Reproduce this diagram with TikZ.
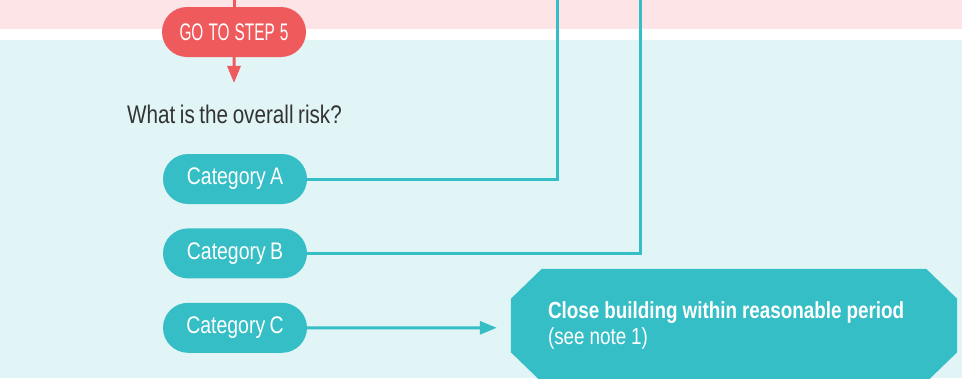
\documentclass[tikz,border=0pt]{standalone}
\usepackage{fontspec}
\setmainfont{Liberation Sans}[FakeStretch=0.81, WordSpace=0.8]
\newfontfamily\capsfont{Liberation Sans}[FakeStretch=0.64, WordSpace=1.2]
\usetikzlibrary{arrows.meta, shapes.misc, positioning, backgrounds}
\definecolor{pinkbg}{HTML}{FDE5E7}
\definecolor{cyanbg}{HTML}{E1F5F6}
\definecolor{redpill}{HTML}{EF5A5D}
\definecolor{tealpill}{HTML}{35BEC6}
\definecolor{txtgray}{HTML}{333333}
\newcommand\boxspacing{\spaceskip=4.9pt plus 2pt minus 1pt\relax}

\begin{document}
\begin{tikzpicture}[
    x=1pt, y=-1pt,
    node distance = 24pt,
    pill/.style = {rounded rectangle, fill=#1, text=white, minimum width=144pt,
                   minimum height=50pt, inner sep=0pt, font=\fontsize{24}{28}\selectfont},
    wire/.style = {draw=#1, line width=3pt},
    arr/.style  = {-{Triangle[length=17pt, width=13pt]}, draw=#1, line width=3pt},
]
% Bands
\begin{scope}[on background layer]
\fill[pinkbg] (0,0) rectangle (962,29);
\fill[white]  (0,29) rectangle (962,40);
\fill[cyanbg] (0,40) rectangle (962,378);
\end{scope}
\useasboundingbox (0,0) rectangle (962,378);

% Step 5 entry
\coordinate (topGo) at (234,0);
\coordinate (topA)  at (557,0);
\coordinate (topB)  at (640,0);
\node[pill=redpill, font=\capsfont\fontsize{24}{28}\selectfont] (go) at (234,32) {GO TO STEP 5};
\node[font=\fontsize{25.5}{29}\selectfont, text=txtgray, anchor=base] (risk) at (234.5,123)
     {What is the overall risk?};

% Risk categories
\node[pill=tealpill] (catA) at (235,179) {Category A};
\node[pill=tealpill, below=of catA] (catB) {Category B};
\node[pill=tealpill, below=of catB] (catC) {Category C};

\node[text=white, minimum width=446pt, minimum height=113pt, inner sep=0pt,
      text width=372pt, align=left, font=\fontsize{23.3}{26}\selectfont] (close) at (734,325.5)
     {\boxspacing\textbf{Close building within reasonable period}\\\boxspacing(see note 1)};
\begin{scope}[on background layer]
\fill[tealpill] ([xshift=31pt]close.north west) -- ([xshift=-31pt]close.north east)
    -- ([yshift=-30pt]close.north east) -- ([yshift=30pt]close.south east)
    -- ([xshift=-31pt]close.south east) -- ([xshift=31pt]close.south west)
    -- ([yshift=30pt]close.south west) -- ([yshift=-30pt]close.north west) -- cycle;
\end{scope}

\draw[wire=redpill] (topGo) -- (go);
\draw[arr=redpill, shorten >=18pt] (go) -- (go |- risk.north);
\draw[wire=tealpill] (catA) -| (topA);
\draw[wire=tealpill] (catB) -| (topB);
\draw[arr=tealpill, shorten >=14pt] (catC) -- (catC -| close.west);

\end{tikzpicture}
\end{document}
